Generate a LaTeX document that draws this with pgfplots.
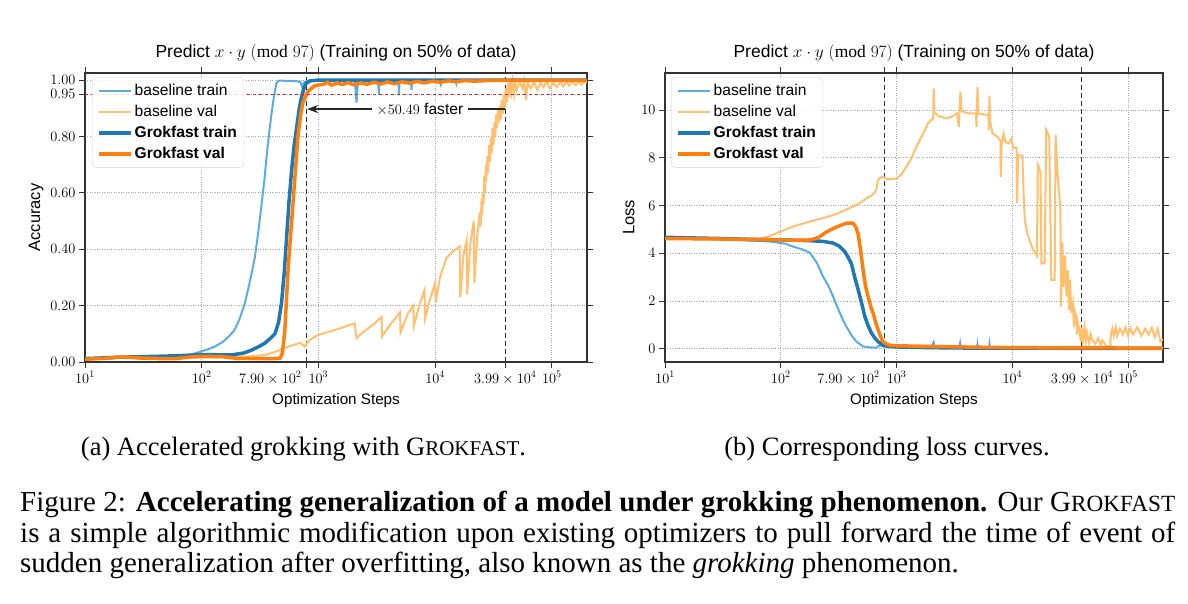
\documentclass[border=0pt]{standalone}
\usepackage{fontspec}
\setmainfont{Liberation Serif}
\newfontfamily\chartfont{Liberation Sans}
\usepackage{pgfplots}
\pgfplotsset{compat=1.18}
\usetikzlibrary{arrows.meta}

\definecolor{btc}{RGB}{90,172,226}
\definecolor{bvc}{RGB}{255,192,112}
\definecolor{gtc}{HTML}{1F77B4}
\definecolor{gvc}{HTML}{FF7F0E}
\definecolor{redd}{HTML}{D62728}
\definecolor{framec}{HTML}{333333}

\newcommand{\chartsize}{\chartfont\fontsize{14.6}{17}\selectfont}
\newcommand{\legsize}{\chartfont\fontsize{15.6}{18}\selectfont}
\newcommand{\titlesize}{\chartfont\fontsize{17.5}{20}\selectfont}
\newcommand{\labsize}{\chartfont\fontsize{15.2}{18}\selectfont}

\pgfplotsset{
  mystyle/.style={
    scale only axis, height=289pt,
    log basis x=10, xmin=10, xmax=2e5,
    xtick={10,100,1000,10000,100000},
    axis line style={framec, line width=1.3pt},
    tick align=outside, tick style={framec, line width=0.9pt},
    major tick length=6pt, minor tick length=3.5pt,
    xmajorgrids, ymajorgrids,
    major grid style={dotted, gray!70, line width=0.9pt},
    font=\chartsize,
    title style={at={(0.5,1)}, anchor=base, yshift=9pt, inner sep=0pt, font=\titlesize},
    title={Predict $x\cdot y\ (\mathrm{mod}\ 97)$ (Training on 50\% of data)},
    xlabel={Optimization Steps},
    xlabel style={font=\labsize, yshift=9pt},
    ylabel style={font=\fontsize{16.5}{19}\chartfont\selectfont, xshift=0pt},
    extra x ticks={790,39900},
    extra x tick labels={\llap{$7.90\times10^{2}$\hspace{5pt}},$3.99\times10^{4}$},
    extra x tick style={grid=major, major grid style={dashed, framec, line width=1pt, dash pattern=on 5pt off 3pt}},
    legend cell align=left,
    legend style={anchor=north west, draw=gray!35, fill=white, fill opacity=0.85, text opacity=1,
      rounded corners=4pt, font=\legsize, inner xsep=5pt, inner ysep=5pt, row sep=4.3pt},
    legend image code/.code={\draw[#1] (0pt,0pt) -- (32pt,0pt);},
  }
}

\begin{document}
\begin{tikzpicture}
\useasboundingbox (0,0) rectangle (1188pt,603pt);

%================ LEFT: accuracy =================
\begin{semilogxaxis}[mystyle, at={(85pt,241pt)}, anchor=south west, width=502pt,
  ymin=0, ymax=1.025,
  ytick={0,0.2,0.4,0.6,0.8,0.95,1.0},
  yticklabel style={/pgf/number format/fixed, /pgf/number format/precision=2, /pgf/number format/fixed zerofill},
  ylabel={Accuracy},
  legend style={at={(0.014,0.986)}},
]
% baseline train
\addplot[btc, line width=2pt] coordinates {
(10,0.012) (15,0.013) (20,0.015) (30,0.017) (40,0.018) (50,0.019) (60,0.02) (70,0.022) (80,0.026) (90,0.032) (100,0.038) (115,0.046) (130,0.055) (150,0.07) (170,0.09) (190,0.112) (210,0.15) (235,0.21) (260,0.29) (285,0.37) (305,0.46) (326,0.56) (345,0.65) (360,0.73) (378,0.81) (396,0.88) (415,0.94) (437,0.99) (460,0.998) (550,0.997) (650,0.996) (700,0.993) (725,0.975) (745,0.99) (800,0.997) (900,1.0) (1500,0.998) (2050,0.998) (2120,0.92) (2180,0.998) (3250,0.998) (3290,0.95) (3340,0.998) (4850,0.998) (4900,0.95) (4960,0.998) (6200,0.998) (6270,0.965) (6350,0.998) (9000,0.996) (11000,0.998) (11200,0.985) (11400,0.998) (15000,0.997) (15200,0.988) (15400,0.998) (30000,0.999) (200000,0.999)};
\addlegendentry{baseline train}
% baseline val
\addplot[bvc, line width=2pt] coordinates {
(10,0.012) (20,0.016) (40,0.015) (70,0.015) (100,0.016) (150,0.017) (200,0.018) (260,0.02) (348,0.025) (420,0.035) (515,0.05) (560,0.055) (630,0.062) (700,0.068) (760,0.055) (790,0.065) (850,0.08) (990,0.095) (1180,0.105) (1500,0.118) (2040,0.137) (2120,0.085) (2400,0.105) (3000,0.135) (3480,0.16) (3500,0.09) (4000,0.125) (5000,0.177) (5050,0.105) (5800,0.17) (6500,0.20) (6560,0.127) (7300,0.2) (8100,0.255) (8200,0.155) (9000,0.22) (10000,0.28) (10100,0.21) (11000,0.3) (12500,0.37) (14000,0.39) (16200,0.41) (16400,0.23) (17500,0.38) (18600,0.43) (18800,0.24) (20000,0.42) (21400,0.50) (21700,0.28) (23000,0.45) (24000,0.53) (24500,0.48) (25000,0.58) (25300,0.52) (25600,0.6) (26000,0.56) (26300,0.66) (26700,0.6) (27100,0.7) (27400,0.64) (28000,0.73) (28500,0.67) (29000,0.77) (29500,0.71) (30000,0.8) (30500,0.74) (31000,0.83) (31600,0.77) (32200,0.85) (32800,0.8) (33400,0.88) (34000,0.83) (34600,0.9) (35200,0.85) (35800,0.91) (36500,0.86) (37200,0.93) (38000,0.88) (38800,0.95) (39500,0.9) (40200,0.97) (41000,0.92) (42000,0.99) (43000,0.94) (44000,0.995) (45000,0.96) (46000,0.995) (47500,0.95) (48500,0.99) (50000,0.965) (53000,0.995) (56000,0.97) (58000,0.995) (60000,0.93) (62000,0.99) (66000,0.97) (70000,0.995) (75000,0.965) (80000,0.99) (85000,0.975) (90000,0.995) (96000,0.97) (103000,0.99) (110000,0.975) (118000,0.992) (125000,0.978) (133000,0.993) (140000,0.98) (150000,0.993) (160000,0.982) (170000,0.994) (180000,0.983) (190000,0.995) (200000,0.99)};
\addlegendentry{baseline val}
% Grokfast train
\addplot[gtc, line width=3.5pt] coordinates {
(10,0.012) (20,0.017) (40,0.02) (60,0.022) (87,0.025) (120,0.026) (180,0.025) (230,0.032) (267,0.042) (310,0.055) (348,0.067) (390,0.085) (424,0.10) (455,0.14) (483,0.21) (510,0.32) (533,0.44) (560,0.57) (589,0.68) (620,0.77) (650,0.83) (680,0.89) (707,0.93) (750,0.97) (790,0.99) (850,0.997) (1000,1.0) (200000,1.0)};
\addlegendentry{\textbf{Grokfast train}}
% Grokfast val
\addplot[gvc, line width=3.5pt] coordinates {
(10,0.01) (15,0.013) (20,0.018) (30,0.014) (45,0.012) (60,0.012) (80,0.018) (100,0.02) (150,0.019) (200,0.013) (300,0.012) (400,0.012) (468,0.013) (490,0.03) (515,0.11) (532,0.22) (550,0.33) (577,0.45) (605,0.56) (635,0.68) (667,0.80) (700,0.87) (735,0.92) (812,0.96) (930,0.98) (1100,0.985) (1200,0.992) (1300,0.982) (1450,0.99) (1600,0.984) (1800,0.991) (2000,0.983) (2300,0.99) (2600,0.985) (3000,0.992) (3400,0.986) (3900,0.993) (4500,0.987) (5200,0.994) (6000,0.989) (7000,0.995) (8000,0.99) (9500,0.996) (11000,0.992) (13000,0.997) (15000,0.994) (18000,0.998) (22000,0.996) (30000,0.999) (200000,0.999)};
\addlegendentry{\textbf{Grokfast val}}
% 0.95 threshold
\addplot[redd, dashed, line width=1.1pt, forget plot] coordinates {(10,0.95) (200000,0.95)};
% arrow annotation
\draw[-{Stealth[length=11pt,width=8pt]}, line width=1.6pt, black!85] (axis cs:39900,0.897) -- (axis cs:800,0.897);
\node[fill=white, inner xsep=5pt, inner ysep=1pt, font=\legsize] at (axis cs:7400,0.897) {$\times50.49$ faster};
\end{semilogxaxis}

%================ RIGHT: loss =================
\begin{semilogxaxis}[mystyle, at={(665pt,241pt)}, anchor=south west, width=498pt,
  ymin=-0.55, ymax=11.55,
  ytick={0,2,4,6,8,10},
  ylabel={Loss},
  legend style={at={(0.012,0.986)}},
]
% baseline train
\addplot[btc, line width=2pt] coordinates {
(10,4.68) (20,4.62) (34,4.57) (50,4.54) (80,4.5) (110,4.4) (128,4.28) (150,4.18) (178,4.03) (205,3.6) (232,3.02) (260,2.6) (283,2.19) (305,1.8) (324,1.5) (345,1.2) (369,0.93) (410,0.55) (451,0.3) (514,0.1) (600,0.06) (670,0.05) (700,0.12) (730,0.15) (760,0.1) (850,0.08) (1000,0.06) (2000,0.05) (2090,0.28) (2150,0.05) (3480,0.04) (3540,0.25) (3600,0.04) (4950,0.04) (5000,0.2) (5060,0.04) (6300,0.04) (6350,0.2) (6420,0.04) (10000,0.03) (200000,0.02)};
\addlegendentry{baseline train}
% baseline val
\addplot[bvc, line width=2pt] coordinates {
(10,4.62) (30,4.58) (50,4.58) (66,4.62) (80,4.72) (92,4.84) (110,5.0) (127,5.12) (150,5.22) (178,5.33) (230,5.47) (283,5.6) (350,5.78) (417,5.95) (480,6.1) (550,6.3) (600,6.4) (648,6.55) (670,6.7) (690,7.07) (740,7.2) (780,7.18) (820,7.1) (1000,7.13) (1100,7.3) (1217,7.63) (1350,8.0) (1480,8.46) (1650,8.9) (1870,9.44) (2000,9.6) (2070,9.6) (2090,10.9) (2120,9.9) (2300,9.75) (2700,9.65) (3000,9.72) (3320,9.86) (3450,9.3) (3560,10.77) (3650,9.95) (4200,9.86) (4850,9.86) (4900,9.3) (5000,10.97) (5100,9.85) (6000,9.8) (6200,9.8) (6280,9.16) (6330,10.6) (6450,9.5) (6730,9.02) (7450,8.88) (7900,8.7) (7950,7.2) (8050,8.5) (8400,9.0) (8700,8.66) (9300,8.6) (9780,8.8) (10200,8.4) (10900,8.4) (11000,6.1) (11200,8.1) (12200,8.1) (12500,6.5) (12800,5.4) (13500,4.8) (15100,4.15) (16300,3.9) (16600,7.7) (17500,7.4) (17800,3.58) (19000,3.58) (19600,9.16) (20800,8.9) (21700,2.89) (23200,2.89) (23600,8.96) (24500,7.4) (26000,5.8) (26300,1.77) (27000,4.45) (27600,2.6) (28500,3.9) (29300,2.2) (30200,3.3) (30800,1.63) (31500,2.9) (32300,1.5) (33300,1.9) (34000,0.9) (34500,1.6) (35600,1.35) (36200,0.6) (36800,1.1) (38000,0.8) (39000,0.3) (39800,0.9) (40600,0.35) (42000,0.9) (43000,0.3) (44000,0.7) (46000,0.25) (47500,0.6) (49000,0.37) (52000,0.2) (55000,0.45) (58000,0.15) (60000,0.35) (65000,0.12) (70000,0.1) (71000,0.65) (73000,0.85) (75000,0.55) (78000,0.9) (80000,0.55) (85000,0.85) (90000,0.6) (95000,0.9) (100000,0.55) (105000,0.85) (110000,0.6) (120000,0.9) (130000,0.55) (140000,0.85) (150000,0.6) (160000,0.88) (170000,0.5) (180000,0.85) (190000,0.3) (200000,0.4)};
\addlegendentry{baseline val}
% Grokfast train
\addplot[gtc, line width=3.5pt] coordinates {
(10,4.67) (30,4.62) (60,4.58) (100,4.56) (178,4.53) (230,4.5) (283,4.43) (320,4.3) (357,4.07) (380,3.85) (407,3.57) (435,3.0) (466,2.47) (500,1.9) (532,1.35) (570,0.95) (607,0.66) (650,0.45) (693,0.3) (750,0.18) (818,0.12) (1000,0.08) (2000,0.05) (5000,0.03) (200000,0.02)};
\addlegendentry{\textbf{Grokfast train}}
% Grokfast val
\addplot[gvc, line width=3.5pt] coordinates {
(10,4.62) (30,4.6) (60,4.58) (100,4.56) (150,4.55) (178,4.56) (200,4.62) (217,4.7) (250,4.9) (283,5.04) (320,5.15) (369,5.26) (400,5.27) (421,5.26) (445,5.1) (466,4.8) (490,4.1) (514,3.3) (540,2.6) (568,2.19) (600,1.75) (627,1.5) (660,1.1) (693,0.8) (730,0.5) (765,0.3) (820,0.2) (871,0.15) (1000,0.13) (2000,0.1) (5000,0.07) (10000,0.05) (200000,0.03)};
\addlegendentry{\textbf{Grokfast val}}
\end{semilogxaxis}

%================ captions =================
\node[anchor=base, inner sep=0pt, font=\fontsize{26.5}{30}\selectfont] at (303.5pt,148pt)
  {(a) Accelerated grokking with G{\fontsize{21}{21}\selectfont ROKFAST}.};
\node[anchor=base, inner sep=0pt, font=\fontsize{26.5}{30}\selectfont] at (887pt,148pt)
  {(b) Corresponding loss curves.};
\node[anchor=north west, inner sep=0pt, text width=1155pt, align=justify, font=\fontsize{29}{30.5}\selectfont] at (20pt,112pt)
  {Figure 2: \textbf{Accelerating generalization of a model under grokking phenomenon.} Our G{\fontsize{23.2}{23.2}\selectfont ROKFAST}\linebreak
   is a simple algorithmic modification upon existing optimizers to pull forward the time of event of\linebreak
   sudden generalization after overfitting, also known as the \textit{grokking} phenomenon.};
\end{tikzpicture}
\end{document}
